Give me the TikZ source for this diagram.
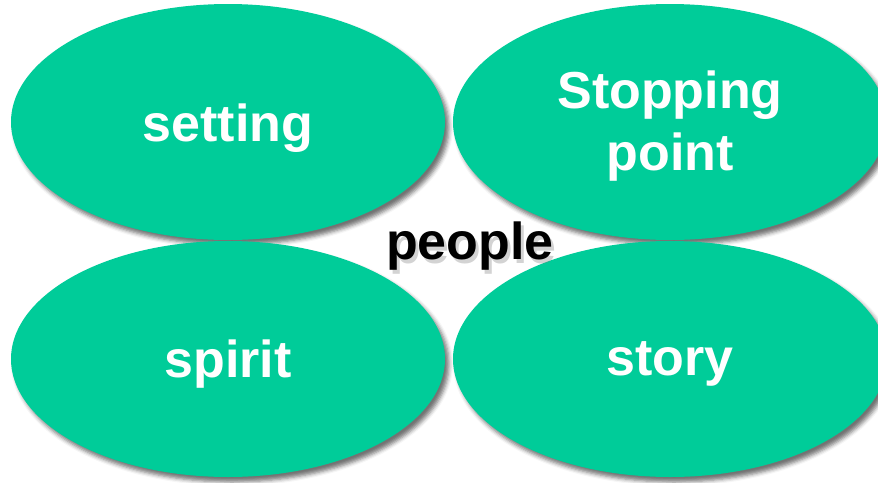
\documentclass[tikz,border=0pt]{standalone}
\usepackage{fontspec}
\setmainfont{Liberation Sans}
\usetikzlibrary{shapes.geometric,shadows.blur}
\definecolor{petal}{RGB}{0,204,153}
\tikzset{
  petal/.style={ellipse, fill=petal, inner sep=0pt, minimum width=434pt, minimum height=236pt,
    blur shadow={shadow xshift=4pt, shadow yshift=-5pt, shadow blur radius=4pt, shadow opacity=55}},
  petaltext/.style={text=white, font=\fontsize{52}{62}\selectfont\bfseries, align=center, inner sep=0pt},
  hub/.style={font=\fontsize{52}{62}\selectfont\bfseries, inner sep=0pt}
}
\begin{document}
\begin{tikzpicture}[x=1pt,y=-1pt]
\useasboundingbox (0,0) rectangle (878,482);
\clip (0,0) rectangle (878,482);
\node[petal] (setting) at (228,122) {};
\node[petal] (stopping) at (670,122) {};
\node[petal] (spirit) at (228,359) {};
\node[petal] (story) at (670,359) {};
\node[petaltext] (settingtext) at ([yshift=-6pt]setting.center) {setting};
\node[petaltext] (stoppingtext) at ([yshift=-4pt]stopping.center) {Stopping\\point};
\node[petaltext] (spirittext) at ([yshift=-5pt]spirit.center) {spirit};
\node[petaltext] (storytext) at ([yshift=-5pt]story.center) {story};
\node[hub, text=black!50, opacity=0.35] (peopleshadow) at (473,250) {people};
\node[hub, text=black] (people) at (470,246) {people};
\end{tikzpicture}
\end{document}
